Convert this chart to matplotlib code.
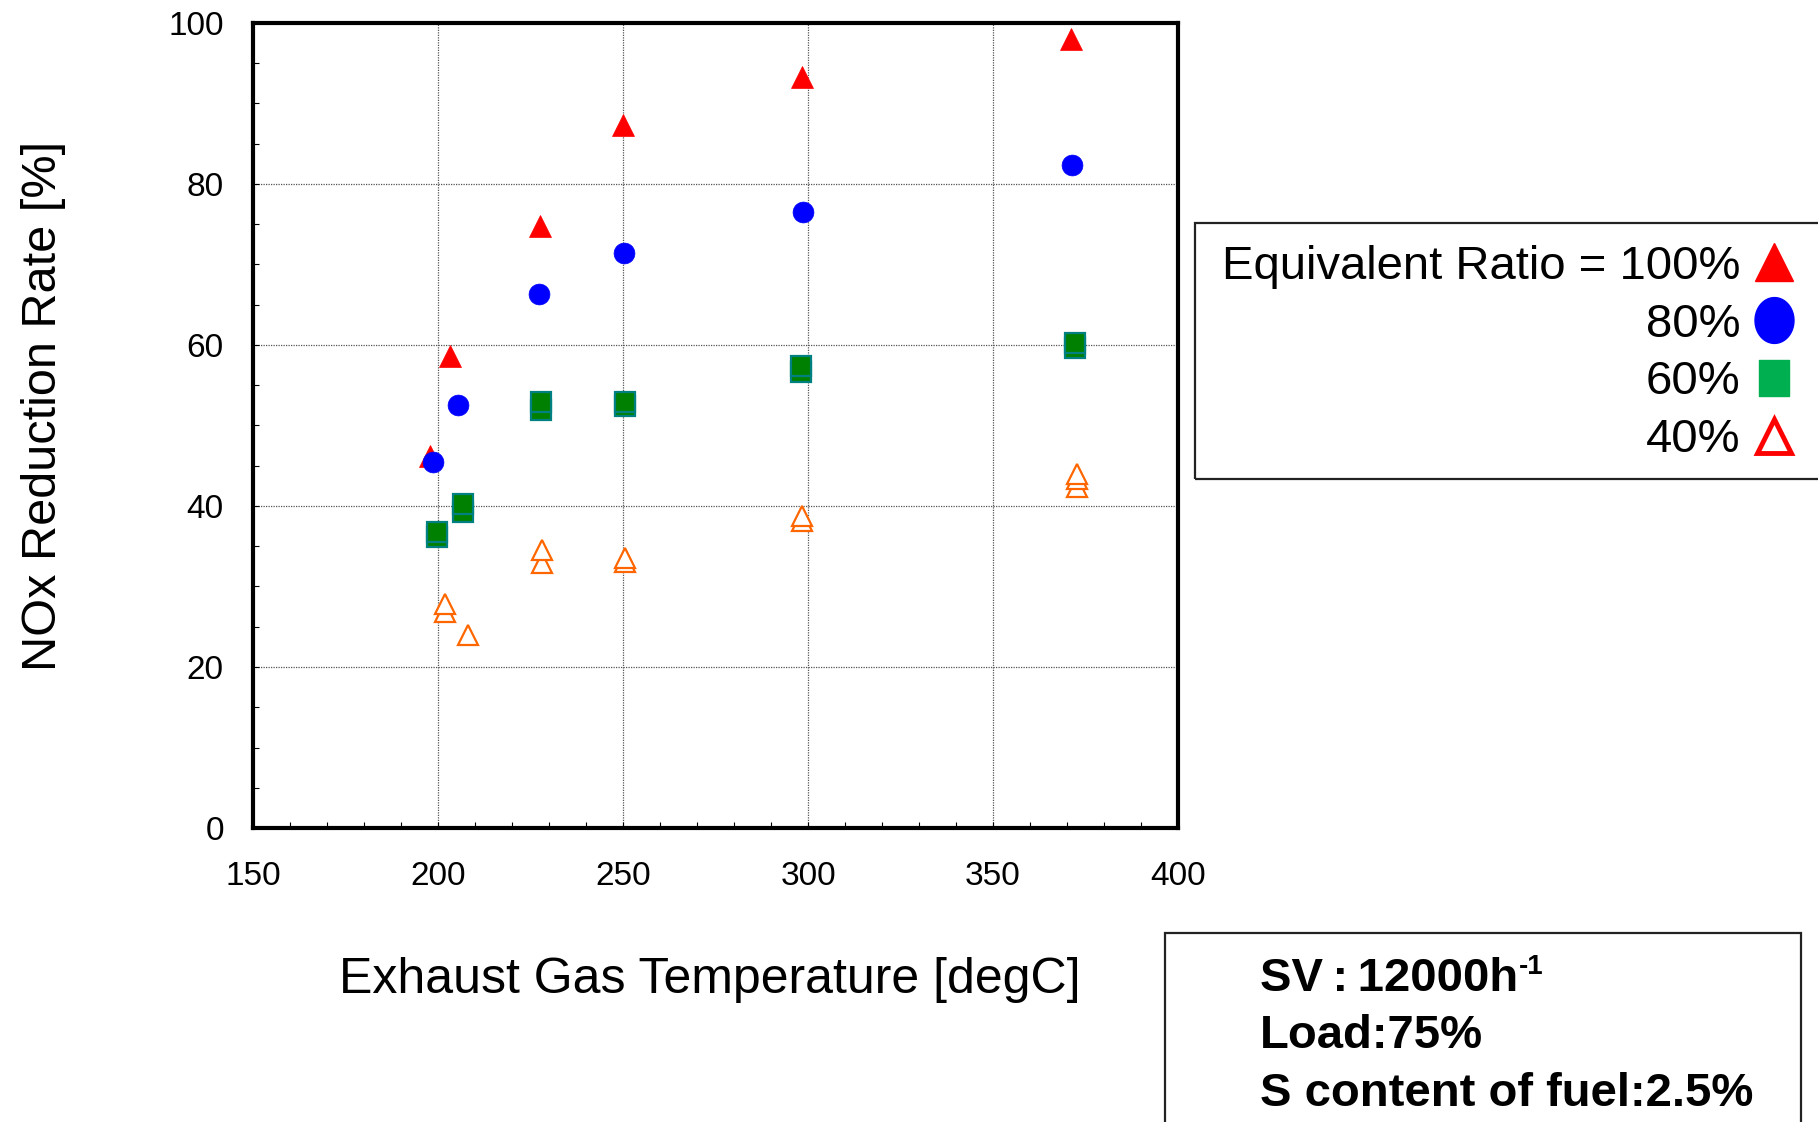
import matplotlib
matplotlib.use("Agg")
import matplotlib.pyplot as plt
from matplotlib.lines import Line2D
from matplotlib.patches import Rectangle
from matplotlib.path import Path
import numpy as np

# ---- data ----
r100_x = [197.8, 203.3, 227.7, 250.0, 298.3, 371.1]
r100_y = [46.2, 58.6, 74.8, 87.3, 93.3, 98.0]

r80_x = [198.7, 205.5, 227.4, 250.2, 298.6, 371.4]
r80_y = [45.5, 52.6, 66.3, 71.4, 76.5, 82.4]

r60_x = [199.6, 199.6, 206.8, 206.8, 227.8, 227.8, 250.5, 250.5, 298.1, 298.1, 372.1, 372.1]
r60_y = [36.2, 36.8, 39.3, 40.2, 51.9, 52.9, 52.4, 52.9, 56.7, 57.4, 59.6, 60.2]

r40_x = [201.9, 201.9, 208.2, 228.2, 228.2, 250.6, 250.6, 298.3, 298.3, 372.6, 372.6, 372.6]
r40_y = [26.8, 27.8, 24.0, 32.9, 34.5, 33.1, 33.5, 38.1, 38.7, 42.3, 43.4, 44.0]

legend_labels = ["Equivalent Ratio = 100%", "80%", "60%", "40%"]
x_ticks = [150, 200, 250, 300, 350, 400]
y_ticks = [0, 20, 40, 60, 80, 100]
info_lines = ["SV\u2009:\u200912000h", "Load:75%", "S content of fuel:2.5%"]

W, H = 1818, 1122
fig = plt.figure(figsize=(W / 100, H / 100), dpi=100)
ax = fig.add_axes([253 / W, 1 - 828 / H, (1178 - 253) / W, (828 - 23) / H])

ax.plot(r100_x, r100_y, ls="none", marker="^", ms=15.5, color="#FF0000", mec="#FF0000", mew=0.5, zorder=5)
ax.plot(r80_x, r80_y, ls="none", marker="o", ms=15, color="#0000FF", mec="#0000FF", mew=0.5, zorder=5)
for xx, yy in zip(r60_x, r60_y):
    ax.plot([xx], [yy], ls="none", marker="s", ms=14, mfc="#008000", mec="#008080", mew=1.6, zorder=5)
for xx, yy in zip(r40_x, r40_y):
    ax.plot([xx], [yy], ls="none", marker="^", ms=14.5, mfc="white", mec="#FF6600", mew=1.6, zorder=5)

ax.set_xlim(150, 400)
ax.set_ylim(0, 100)
ax.set_xticks(x_ticks)
ax.set_yticks(y_ticks)
ax.set_xticks(np.arange(150, 401, 10), minor=True)
ax.set_yticks(np.arange(0, 101, 5), minor=True)
ax.tick_params(which="both", direction="in", length=4.5, width=0.8, top=False, right=False)
ax.tick_params(axis="y", which="major", pad=21, labelsize=24)
ax.tick_params(axis="x", which="major", pad=24, labelsize=24)
for lab in ax.get_xticklabels() + ax.get_yticklabels():
    lab.set_family("Liberation Sans")
ax.grid(True, which="major", color="#555555", linestyle=(0, (1, 1)), linewidth=0.9)
for s in ax.spines.values():
    s.set_linewidth(3)
    s.set_color("black")

fig.text(44 / W, 1 - 406 / H, "NOx Reduction Rate [%]", rotation=90, ha="center", va="center",
         fontsize=35, family="Liberation Sans")
fig.text(710 / W, 1 - 980 / H, "Exhaust Gas Temperature [degC]", ha="center", va="center",
         fontsize=36, family="Liberation Sans")

# legend frame (extends beyond the right edge)
fig.patches.append(Rectangle((1195 / W, 1 - 479 / H), (1840 - 1195) / W, (479 - 223) / H,
                             transform=fig.transFigure, fill=False, edgecolor="#222222", lw=1.6))

t = np.linspace(0, 2 * np.pi, 60)
ellipse = Path(np.column_stack([0.85 * np.cos(t), np.sin(t)]), closed=True)
rect = Path([(-0.83, -1), (0.83, -1), (0.83, 1), (-0.83, 1), (-0.83, -1)], closed=True)
handles = [
    Line2D([], [], ls="none", marker="^", ms=27, color="#FF0000"),
    Line2D([], [], ls="none", marker=ellipse, ms=33, color="#0000FF"),
    Line2D([], [], ls="none", marker=rect, ms=26, color="#00B050"),
    Line2D([], [], ls="none", marker="^", ms=25, mfc="white", mec="#FF0000", mew=3.5),
]
leg = fig.legend(handles, legend_labels, loc="upper right", bbox_to_anchor=(1793 / W, 1 - 245 / H),
                 bbox_transform=fig.transFigure, frameon=False, markerfirst=False,
                 prop={"family": "Liberation Sans", "size": 34}, labelspacing=0.29,
                 handlelength=0.8, handletextpad=0.32, borderpad=0, borderaxespad=0)

# info box
fig.patches.append(Rectangle((1165 / W, -0.05), (1801 - 1165) / W, 1 - 933 / H + 0.05,
                             transform=fig.transFigure, fill=False, edgecolor="#222222", lw=1.6))
baselines = [991, 1048, 1106]
txts = []
for line, b in zip(info_lines, baselines):
    txts.append(fig.text(1260 / W, 1 - b / H, line, ha="left", va="baseline", fontsize=34,
                         fontweight="bold", family=["Liberation Sans", "DejaVu Sans"]))
fig.canvas.draw()
bb = txts[0].get_window_extent()
fig.text((bb.x1 + 1) / W, 1 - (991 - 17) / H, "-1", ha="left", va="baseline", fontsize=20,
         fontweight="bold", family="Liberation Sans")

fig.savefig("out.png", dpi=100)
